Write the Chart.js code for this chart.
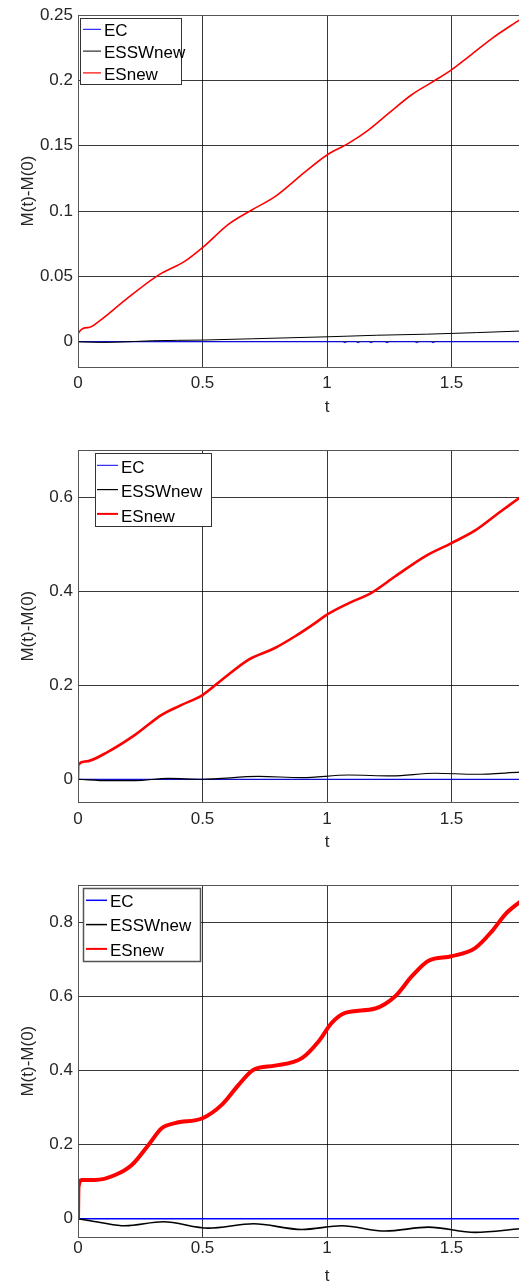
<!DOCTYPE html>
<html>
<head>
<meta charset="utf-8">
<script src="https://cdn.jsdelivr.net/npm/chart.js@4.4.0/dist/chart.umd.min.js"></script>
<style>
  html, body { margin: 0; padding: 0; background: #fff; overflow: hidden; width: 519px; height: 1284px; }
  .panel { position: absolute; left: 0; }
  #c1 { top: 0; }
  #c2 { top: 430px; }
  #c3 { top: 865px; }
</style>
</head>
<body>
<canvas id="c1" class="panel" width="600" height="430"></canvas>
<canvas id="c2" class="panel" width="600" height="435"></canvas>
<canvas id="c3" class="panel" width="600" height="435"></canvas>
<script>
// shared
const seriesNames = ['EC', 'ESSWnew', 'ESnew'];
const xTicks = [0, 0.5, 1, 1.5, 2];

// panel 1
const p1Ticks = [0, 0.05, 0.1, 0.15, 0.2, 0.25];
const p1EcT = [0, 1.064, 1.072, 1.08, 1.117, 1.125, 1.133, 1.169, 1.177, 1.185, 1.233, 1.241, 1.249, 1.353, 1.361, 1.369, 1.418, 1.426, 1.434, 1.775];
const p1EcV = [0, 0, -0.0008, 0, 0, -0.0008, 0, 0, -0.0008, 0, 0, -0.0008, 0, 0, -0.0008, 0, 0, -0.0008, 0, 0];
const p1SwT = [0, 0.1, 0.2, 0.3, 0.5, 0.7, 1.0, 1.2, 1.4, 1.5, 1.6, 1.775];
const p1SwV = [0, -0.0005, 0, 0.0008, 0.0013, 0.0023, 0.0038, 0.005, 0.0058, 0.0064, 0.007, 0.0082];
const p1EsT = [0, 0.0005, 0.04, 0.088, 0.189, 0.323, 0.43, 0.5, 0.604, 0.698, 0.791, 0.912, 1.0, 1.086, 1.166, 1.247, 1.34, 1.421, 1.5, 1.568, 1.662, 1.775];
const p1EsV = [0, 0.0062, 0.0108, 0.0162, 0.0319, 0.051, 0.0617, 0.072, 0.0898, 0.1008, 0.111, 0.130, 0.1429, 0.1518, 0.162, 0.1747, 0.189, 0.1985, 0.208, 0.218, 0.232, 0.2465];

// panel 2
const p2Ticks = [0, 0.2, 0.4, 0.6];
const p2EcT = [0, 1.775];
const p2EcV = [0, 0];
const p2SwT = [0, 0.122, 0.229, 0.363, 0.5, 0.725, 0.899, 1.086, 1.26, 1.434, 1.595, 1.775];
const p2SwV = [0, -0.003, -0.003, 0.002, 0, 0.006, 0.0035, 0.009, 0.007, 0.0128, 0.0106, 0.015];
const p2EsT = [0, 0.001, 0.028, 0.122, 0.229, 0.336, 0.416, 0.5, 0.577, 0.684, 0.791, 0.872, 0.952, 1.0, 1.086, 1.18, 1.273, 1.394, 1.5, 1.595, 1.689, 1.775];
const p2EsV = [0, 0.0305, 0.0376, 0.0589, 0.0943, 0.137, 0.158, 0.179, 0.211, 0.254, 0.279, 0.304, 0.332, 0.350, 0.374, 0.397, 0.431, 0.474, 0.502, 0.529, 0.566, 0.599];

// panel 3
const p3Ticks = [0, 0.2, 0.4, 0.6, 0.8];
const p3EcT = [0, 1.775];
const p3EcV = [0, 0];
const p3SwT = [0, 0.09, 0.188, 0.343, 0.524, 0.705, 0.899, 1.06, 1.234, 1.408, 1.595, 1.775];
const p3SwV = [0, -0.0099, -0.0189, -0.0081, -0.0252, -0.0135, -0.0288, -0.0189, -0.0332, -0.0225, -0.0368, -0.027];
const p3EsT = [0, 0.002, 0.015, 0.068, 0.149, 0.216, 0.283, 0.336, 0.39, 0.5, 0.577, 0.645, 0.705, 0.791, 0.899, 0.966, 1.019, 1.073, 1.194, 1.274, 1.341, 1.408, 1.5, 1.595, 1.662, 1.716, 1.775];
const p3EsV = [0, 0.0865, 0.1045, 0.1045, 0.118, 0.145, 0.199, 0.244, 0.258, 0.271, 0.307, 0.361, 0.402, 0.413, 0.433, 0.478, 0.528, 0.555, 0.567, 0.6, 0.654, 0.696, 0.708, 0.73, 0.775, 0.821, 0.855];

const FONT = '"Liberation Sans", Arial, Helvetica, sans-serif';
const TXT = '#262626';
const GRID = 'rgba(0,0,0,0.78)';
const colors = ['#0000ff', '#000000', '#ff0000'];

const pts = (t, v) => t.map((x, i) => ({ x: x, y: v[i] }));

// box around plot area (MATLAB style)
const framePlugin = {
  id: 'frame',
  afterDatasetsDraw(chart) {
    const { ctx, chartArea: a } = chart;
    ctx.save();
    ctx.strokeStyle = '#555';
    ctx.lineWidth = 1;
    ctx.strokeRect(Math.round(a.left) + 0.5, Math.round(a.top) + 0.5, Math.round(a.width), Math.round(a.height));
    ctx.restore();
  }
};

// legend drawn inside the axes, upper left
const boxLegend = {
  id: 'boxLegend',
  afterDatasetsDraw(chart, args, o) {
    const ctx = chart.ctx;
    ctx.save();
    ctx.fillStyle = '#fff';
    ctx.fillRect(o.x, o.y, o.w, o.h);
    ctx.strokeStyle = o.border;
    ctx.lineWidth = o.borderWidth;
    ctx.strokeRect(o.x + 0.5, o.y + 0.5, o.w, o.h);
    ctx.font = '17px ' + FONT;
    ctx.textBaseline = 'middle';
    chart.data.datasets.forEach((ds, i) => {
      const cy = o.rowY + i * o.rowGap;
      ctx.strokeStyle = ds.borderColor;
      ctx.lineWidth = o.sampleWidths[i];
      ctx.beginPath();
      ctx.moveTo(o.lineX0, cy - o.lineLift);
      ctx.lineTo(o.lineX1, cy - o.lineLift);
      ctx.stroke();
      ctx.fillStyle = '#000';
      ctx.fillText(ds.label, o.textX, cy);
    });
    ctx.restore();
  }
};

function makeChart(id, p) {
  const canvas = document.getElementById(id);
  const H = canvas.height;
  const series = [p.ec, p.sw, p.es];
  new Chart(canvas.getContext('2d'), {
    type: 'line',
    data: {
      datasets: series.map((d, i) => ({
        label: seriesNames[i],
        data: d,
        borderColor: colors[i],
        borderWidth: p.widths[i],
        pointRadius: 0,
        fill: false,
        cubicInterpolationMode: i === 0 ? 'default' : 'monotone',
        tension: 0,
        order: 2 - i
      }))
    },
    options: {
      responsive: false,
      animation: false,
      events: [],
      layout: { padding: { top: p.top, right: 24, bottom: 0, left: 0 } },
      plugins: {
        legend: { display: false },
        tooltip: { enabled: false },
        boxLegend: p.legend
      },
      scales: {
        x: {
          type: 'linear',
          min: 0, max: 2,
          afterBuildTicks: s => { s.ticks = xTicks.map(v => ({ value: v })); },
          afterFit: s => { s.height = H - p.bottom; },
          border: { display: false },
          grid: { color: GRID, drawTicks: false, lineWidth: 1 },
          ticks: {
            padding: p.xTickPad, color: TXT, maxRotation: 0, autoSkip: false,
            font: { family: FONT, size: 17, lineHeight: 1 },
            callback: v => String(v)
          },
          title: {
            display: true, text: 't', color: TXT,
            font: { family: FONT, size: 17, lineHeight: 1 },
            padding: { top: 0, bottom: p.titlePad }
          }
        },
        y: {
          type: 'linear',
          min: p.ymin, max: p.ymax,
          afterBuildTicks: s => { s.ticks = p.yTicks.map(v => ({ value: v })); },
          afterFit: s => { s.width = 78; },
          border: { display: false },
          grid: { color: GRID, drawTicks: false, lineWidth: 1 },
          ticks: {
            padding: 5, color: TXT,
            font: { family: FONT, size: 17, lineHeight: 1 },
            callback: v => String(v)
          },
          title: {
            display: true, text: 'M(t)-M(0)', color: TXT,
            font: { family: FONT, size: 17, lineHeight: 1 },
            padding: { top: 19.5, bottom: 0 }
          }
        }
      }
    },
    plugins: [framePlugin, boxLegend]
  });
}

makeChart('c1', {
  ec: pts(p1EcT, p1EcV), sw: pts(p1SwT, p1SwV), es: pts(p1EsT, p1EsV),
  widths: [1, 1, 1.6],
  yTicks: p1Ticks, ymin: -0.0193, ymax: 0.25,
  top: 15, bottom: 367, xTickPad: 8, titlePad: 14.5,
  legend: { x: 80, y: 18, w: 101, h: 66, border: '#333', borderWidth: 1,
            lineX0: 83, lineX1: 101, textX: 104, rowY: 31.7, rowGap: 21.8, lineLift: 2.4,
            sampleWidths: [1, 1, 1.2] }
});

makeChart('c2', {
  ec: pts(p2EcT, p2EcV), sw: pts(p2SwT, p2SwV), es: pts(p2EsT, p2EsV),
  widths: [1, 1.2, 2.6],
  yTicks: p2Ticks, ymin: -0.049, ymax: 0.7,
  top: 20, bottom: 372.3, xTickPad: 9, titlePad: 14.5,
  legend: { x: 95, y: 23, w: 116, h: 73, border: '#333', borderWidth: 1,
            lineX0: 97, lineX1: 118, textX: 121, rowY: 38.3, rowGap: 24.3, lineLift: 3,
            sampleWidths: [1, 1.2, 2] }
});

makeChart('c3', {
  ec: pts(p3EcT, p3EcV), sw: pts(p3SwT, p3SwV), es: pts(p3EsT, p3EsV),
  widths: [1.5, 1.6, 4],
  yTicks: p3Ticks, ymin: -0.05, ymax: 0.9,
  top: 20, bottom: 372.3, xTickPad: 3, titlePad: 15.5,
  legend: { x: 83, y: 23, w: 117, h: 73, border: '#555', borderWidth: 1.5,
            lineX0: 86, lineX1: 107, textX: 110, rowY: 37.3, rowGap: 24.3, lineLift: 2,
            sampleWidths: [1.5, 1.5, 2] }
});
</script>
</body>
</html>
